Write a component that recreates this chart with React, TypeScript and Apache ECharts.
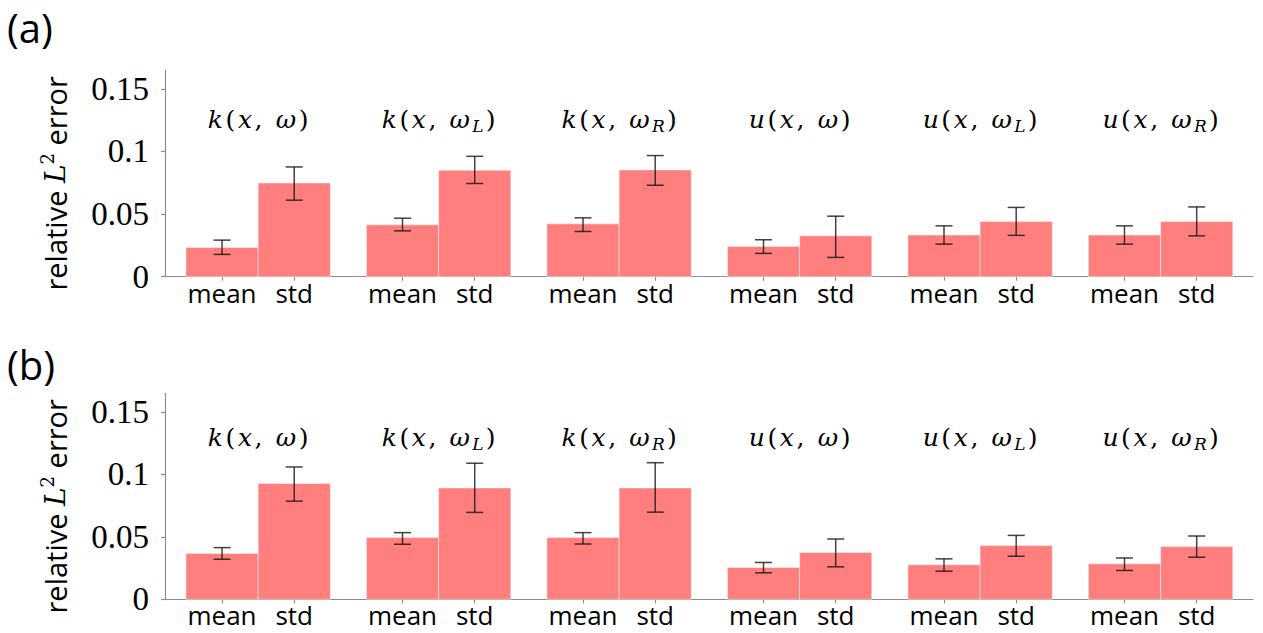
import React, { useEffect, useRef } from 'react';
import * as echarts from 'echarts';

// ---- data ----
const groupFuncs = ['k', 'k', 'k', 'u', 'u', 'u'];
const groupOmegaSubs = ['', 'L', 'R', '', 'L', 'R'];
const barLabels = ['mean', 'std'];
const yTickValues = [0, 0.05, 0.1, 0.15];

// panel (a)
const aMean = [0.0234, 0.0414, 0.0422, 0.0242, 0.0332, 0.0332];
const aMeanLo = [0.0178, 0.0366, 0.0361, 0.0186, 0.026, 0.026];
const aMeanHi = [0.0292, 0.0467, 0.047, 0.0295, 0.0406, 0.0406];
const aStd = [0.0748, 0.085, 0.0852, 0.0326, 0.0441, 0.0441];
const aStdLo = [0.0611, 0.0744, 0.073, 0.0154, 0.033, 0.0326];
const aStdHi = [0.0876, 0.0961, 0.0967, 0.0483, 0.0553, 0.0557];

// panel (b)
const bMean = [0.0367, 0.0494, 0.0494, 0.0255, 0.0276, 0.0284];
const bMeanLo = [0.0321, 0.0441, 0.0443, 0.0212, 0.0225, 0.0231];
const bMeanHi = [0.0414, 0.0534, 0.0534, 0.0295, 0.0324, 0.0331];
const bStd = [0.0927, 0.0892, 0.0892, 0.0375, 0.043, 0.0422];
const bStdLo = [0.0786, 0.0696, 0.0698, 0.026, 0.0345, 0.0337];
const bStdHi = [0.106, 0.109, 0.1094, 0.0483, 0.0512, 0.0507];

// ---- layout / style ----
const GROUP_STEP = 2.5;
const X_MIN = -0.79;
const X_MAX = 14.28;
const Y_MAX = 0.165;
const BAR_COLOR = '#ff7f7f';
const AXIS_COLOR = '#8c8c8c';
const ERR_COLOR = 'rgba(20,20,20,0.8)';
const SANS = '"Open Sans", "DejaVu Sans", sans-serif';
const SERIF = '"DejaVu Serif", serif';

const positions: number[] = [];
const posLabels: string[] = [];
groupFuncs.forEach((_, g) => {
  barLabels.forEach((lab, j) => {
    positions.push(g * GROUP_STEP + j);
    posLabels.push(lab);
  });
});

function titleText(g: number) {
  const sub = groupOmegaSubs[g];
  return `{i|${groupFuncs[g]}}{n|(}{i|x}{n|,}{n| }{i|ω}` + (sub ? `{s|${sub}}` : '') + `{n|)}`;
}

const titleRich = {
  i: { fontFamily: SERIF, fontStyle: 'italic', fontSize: 25, fill: '#000', lineHeight: 30, verticalAlign: 'middle', padding: [0, 1.3] },
  n: { fontFamily: SERIF, fontSize: 25, fill: '#000', lineHeight: 30, verticalAlign: 'middle', padding: [0, 1.3] },
  s: { fontFamily: SERIF, fontStyle: 'italic', fontSize: 17, fill: '#000', lineHeight: 14, verticalAlign: 'bottom', padding: [0, 1] },
};

function buildPanel(
  idx: number,
  mean: number[], meanLo: number[], meanHi: number[],
  std: number[], stdLo: number[], stdHi: number[],
  titleY: number
) {
  const barData: number[][] = [];
  const errData: number[][] = [];
  const titleData: number[][] = [];
  mean.forEach((m, g) => {
    barData.push([g * GROUP_STEP, m]);
    barData.push([g * GROUP_STEP + 1, std[g]]);
    errData.push([g * GROUP_STEP, meanLo[g], meanHi[g]]);
    errData.push([g * GROUP_STEP + 1, stdLo[g], stdHi[g]]);
    titleData.push([g * GROUP_STEP + 0.5, titleY, g]);
  });
  const series: any[] = [
    {
      type: 'custom',
      xAxisIndex: idx,
      yAxisIndex: idx,
      data: barData,
      encode: { x: 0, y: 1 },
      renderItem: (params: any, api: any) => {
        const x = api.value(0);
        const v = api.value(1);
        const p0 = api.coord([x - 0.5, v]);
        const p1 = api.coord([x + 0.5, 0]);
        return {
          type: 'rect',
          shape: { x: p0[0], y: p0[1], width: p1[0] - p0[0], height: p1[1] - p0[1] },
          style: { fill: BAR_COLOR, stroke: 'rgba(255,255,255,0.45)', lineWidth: 1 },
        };
      },
    },
    {
      type: 'custom',
      xAxisIndex: idx,
      yAxisIndex: idx,
      data: errData,
      encode: { x: 0, y: [1, 2] },
      z: 5,
      renderItem: (params: any, api: any) => {
        const x = api.value(0);
        const lo = api.coord([x, api.value(1)]);
        const hi = api.coord([x, api.value(2)]);
        const capL = api.coord([x - 0.118, 0])[0];
        const capR = api.coord([x + 0.118, 0])[0];
        const style = { stroke: ERR_COLOR, lineWidth: 1.5 };
        return {
          type: 'group',
          children: [
            { type: 'line', shape: { x1: lo[0], y1: lo[1], x2: hi[0], y2: hi[1] }, style },
            { type: 'line', shape: { x1: capL, y1: hi[1], x2: capR, y2: hi[1] }, style },
            { type: 'line', shape: { x1: capL, y1: lo[1], x2: capR, y2: lo[1] }, style },
          ],
        };
      },
    },
    {
      type: 'custom',
      xAxisIndex: idx,
      yAxisIndex: idx,
      data: titleData,
      encode: { x: 0, y: 1 },
      renderItem: (params: any, api: any) => {
        const p = api.coord([api.value(0), api.value(1)]);
        const g = api.value(2);
        return {
          type: 'text',
          x: p[0],
          y: p[1],
          style: {
            text: titleText(g),
            rich: titleRich,
            align: 'center',
            verticalAlign: 'middle',
          },
        };
      },
    },
  ];
  return series;
}

function xAxisFor(idx: number) {
  return {
    type: 'value',
    gridIndex: idx,
    min: X_MIN,
    max: X_MAX,
    splitLine: { show: false },
    axisLine: { show: true, onZero: false, lineStyle: { color: AXIS_COLOR, width: 1.2 } },
    axisTick: { show: true, customValues: positions, length: 4, lineStyle: { color: AXIS_COLOR, width: 1.2 } },
    axisLabel: {
      show: true,
      customValues: positions,
      margin: 5,
      color: '#000',
      fontFamily: SANS,
      fontSize: 26,
      lineHeight: 22,
      formatter: (v: number) => {
        const i = positions.findIndex((p) => Math.abs(p - v) < 1e-6);
        return i >= 0 ? posLabels[i] : '';
      },
    },
  };
}

function yAxisFor(idx: number) {
  return {
    type: 'value',
    gridIndex: idx,
    min: 0,
    max: Y_MAX,
    splitLine: { show: false },
    axisLine: { show: true, onZero: false, lineStyle: { color: AXIS_COLOR, width: 1.2 } },
    axisTick: { show: true, customValues: yTickValues, length: 4, lineStyle: { color: AXIS_COLOR, width: 1.2 } },
    axisLabel: {
      show: true,
      customValues: yTickValues,
      margin: 16,
      color: '#000',
      fontFamily: '"Liberation Serif", serif',
      fontSize: 33,
      formatter: (v: number) => String(v),
    },
    name: 'relative {i|L}{sup|2} error',
    nameLocation: 'middle',
    nameRotate: 90,
    nameGap: 93,
    nameTextStyle: {
      color: '#000',
      fontFamily: SANS,
      fontSize: 29,
      lineHeight: 34,
      padding: [0, 20, 0, 0],
      rich: {
        i: { fontFamily: SERIF, fontStyle: 'italic', fontSize: 28, color: '#000', lineHeight: 34 },
        sup: { fontFamily: SERIF, fontSize: 18, color: '#000', lineHeight: 14, verticalAlign: 'top' },
      },
    },
  };
}

export default function App() {
  const ref = useRef<HTMLDivElement>(null);
  useEffect(() => {
    document.body.style.margin = '0';
    if (!ref.current) return;
    const chart = echarts.init(ref.current, undefined, { renderer: 'svg' });
    const option: any = {
      animation: false,
      backgroundColor: '#fff',
      grid: [
        { left: 165, right: 10, top: 70, height: 206.7 },
        { left: 165, right: 10, top: 393.3, height: 206 },
      ],
      xAxis: [xAxisFor(0), xAxisFor(1)],
      yAxis: [yAxisFor(0), yAxisFor(1)],
      graphic: [
        { type: 'text', left: 7, top: 7, style: { text: '(a)', fontFamily: SANS, fontSize: 40, fill: '#000' } },
        { type: 'text', left: 7, top: 344, style: { text: '(b)', fontFamily: SANS, fontSize: 40, fill: '#000' } },
      ],
      series: [
        ...buildPanel(0, aMean, aMeanLo, aMeanHi, aStd, aStdLo, aStdHi, 0.1255),
        ...buildPanel(1, bMean, bMeanLo, bMeanHi, bStd, bStdLo, bStdHi, 0.1296),
      ],
    };
    chart.setOption(option);
    return () => chart.dispose();
  }, []);
  return <div ref={ref} style={{ width: 1263, height: 633 }} />;
}
